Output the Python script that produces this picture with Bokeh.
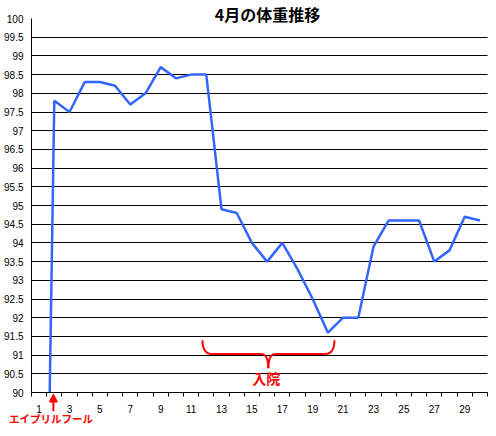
from bokeh.plotting import figure
from bokeh.models import FixedTicker, Range1d, Label, Arrow, NormalHead
from bokeh.embed import file_html
from bokeh.resources import INLINE

# ---- data ----
days = list(range(1, 31))
weights = [72.0, 97.8, 97.5, 98.3, 98.3, 98.2, 97.7, 98.0, 98.7, 98.4,
           98.5, 98.5, 94.9, 94.8, 94.0, 93.5, 94.0, 93.3, 92.5, 91.6,
           92.0, 92.0, 93.9, 94.6, 94.6, 94.6, 93.5, 93.8, 94.7, 94.6]
y_ticks = [90.0, 90.5, 91.0, 91.5, 92.0, 92.5, 93.0, 93.5, 94.0, 94.5, 95.0,
           95.5, 96.0, 96.5, 97.0, 97.5, 98.0, 98.5, 99.0, 99.5, 100.0]
y_tick_labels = ["90", "90.5", "91", "91.5", "92", "92.5", "93", "93.5", "94",
                 "94.5", "95", "95.5", "96", "96.5", "97", "97.5", "98", "98.5",
                 "99", "99.5", "100"]
x_ticks = [1, 3, 5, 7, 9, 11, 13, 15, 17, 19, 21, 23, 25, 27, 29]
y_min, y_max = 90, 100
title_text = "4月の体重推移"
hosp_text = "入院"
april_text = "エイプリルフール"

# annotation anchors (data units)
brace_start, brace_end, brace_center = 11.75, 20.43, 16.08
brace_top, brace_bar, brace_tip = 91.40, 91.03, 90.65
hook, notch = 0.64, 0.48

# ---- layout (pixels on the canvas) ----
W, H = 488, 428
px_left, px_right = 31, 487
py_top, py_bottom = 18, 392
x_lo, x_hi = days[0] - 0.5, days[-1] + 0.5
dx = (px_right - px_left) / (x_hi - x_lo)
dy = (py_bottom - py_top) / (y_max - y_min)

p = figure(width=W, height=H, output_backend="svg", toolbar_location=None,
           x_range=Range1d(x_lo - px_left / dx, x_hi + (W - px_right) / dx),
           y_range=Range1d(y_min - (H - py_bottom) / dy, y_max + py_top / dy),
           min_border=0)
p.outline_line_color = None
p.background_fill_color = "white"
p.border_fill_color = "white"

# grid
p.xgrid.visible = False
grid_ticks = [t for t in y_ticks if y_min < t < y_max]
p.ygrid.ticker = FixedTicker(ticks=grid_ticks)
p.ygrid.grid_line_color = "black"
p.ygrid.grid_line_width = 1
p.ygrid.bounds = (y_min, y_max)
try:
    p.ygrid.cross_bounds = (x_lo, x_hi)
except Exception:
    p.ygrid.visible = False
    p.segment(x0=[x_lo] * len(grid_ticks), y0=grid_ticks,
              x1=[x_hi] * len(grid_ticks), y1=grid_ticks,
              line_color="black", line_width=1)

# series
p.line(days, weights, line_color="#3366FF", line_width=2.5)
# hide what falls below the value axis minimum
p.quad(left=[p.x_range.start], right=[p.x_range.end],
       bottom=[p.y_range.start], top=[y_min],
       fill_color="white", line_color=None)

# y axis
p.yaxis.fixed_location = x_lo
p.yaxis.bounds = (y_min, y_max)
p.yaxis.ticker = FixedTicker(ticks=y_ticks)
p.yaxis.major_label_overrides = dict(zip(y_ticks, y_tick_labels))
p.yaxis.major_tick_out = 0
p.yaxis.major_tick_in = 0
p.yaxis.minor_tick_out = 0
p.yaxis.minor_tick_in = 0
p.yaxis.axis_line_color = "black"
p.yaxis.major_label_text_font = "Liberation Sans"
p.yaxis.major_label_text_font_size = "10px"
p.yaxis.major_label_text_color = "black"
p.yaxis.major_label_standoff = 8

# x axis: labels on odd days, tick marks on category boundaries
p.xaxis.fixed_location = y_min
p.xaxis.bounds = (x_lo, x_hi)
p.xaxis.ticker = FixedTicker(ticks=x_ticks,
                             minor_ticks=[d - 0.5 for d in days] + [x_hi])
p.xaxis.major_tick_out = 0
p.xaxis.major_tick_in = 0
p.xaxis.minor_tick_out = 4
p.xaxis.minor_tick_in = 0
p.xaxis.minor_tick_line_color = "black"
p.xaxis.axis_line_color = "black"
p.xaxis.major_label_text_font = "Liberation Sans"
p.xaxis.major_label_text_font_size = "10px"
p.xaxis.major_label_text_color = "black"
p.xaxis.major_label_standoff = 8

# brace
red = "#FF0000"
p.quadratic(x0=[brace_start, brace_end], y0=[brace_top, brace_top],
            x1=[brace_start + hook, brace_end - hook], y1=[brace_bar, brace_bar],
            cx=[brace_start, brace_end], cy=[brace_bar, brace_bar],
            line_color=red, line_width=2)
p.segment(x0=[brace_start + hook, brace_center + notch], y0=[brace_bar, brace_bar],
          x1=[brace_center - notch, brace_end - hook], y1=[brace_bar, brace_bar],
          line_color=red, line_width=2)
p.quadratic(x0=[brace_center - notch, brace_center + notch], y0=[brace_bar, brace_bar],
            x1=[brace_center, brace_center], y1=[brace_tip, brace_tip],
            cx=[brace_center, brace_center], cy=[brace_bar, brace_bar],
            line_color=red, line_width=2)

p.add_layout(Label(x=15.95, y=90.39, text=hosp_text, text_color=red,
                   text_font="Noto Sans CJK JP", text_font_style="bold",
                   text_font_size="14px", text_align="center",
                   text_baseline="middle"))

# April fool arrow + label
p.add_layout(Arrow(end=NormalHead(size=8, fill_color=red, line_color=red),
                   x_start=1.94, y_start=89.5, x_end=1.94, y_end=89.96,
                   line_color=red, line_width=2))
p.add_layout(Label(x=1.79, y=89.31, text=april_text, text_color=red,
                   text_font="Noto Sans CJK JP", text_font_style="bold",
                   text_font_size="10.5px", text_align="center",
                   text_baseline="middle"))

# title
p.add_layout(Label(x=16.03, y=100.13, text=title_text, text_color="black",
                   text_font="Noto Sans CJK JP", text_font_style="bold",
                   text_font_size="16px", text_align="center",
                   text_baseline="middle"))

open("out.html", "w").write(file_html(p, INLINE))
